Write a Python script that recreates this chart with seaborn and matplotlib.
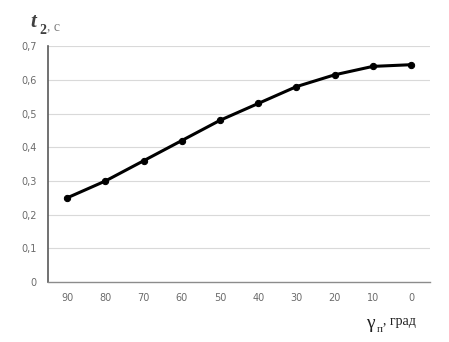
import numpy as np
import pandas as pd
import seaborn as sns
import matplotlib
matplotlib.use("Agg")
import matplotlib.pyplot as plt

# angle categories and time values
angles = ["90", "80", "70", "60", "50", "40", "30", "20", "10", "0"]
t2 = [0.25, 0.30, 0.36, 0.42, 0.48, 0.53, 0.58, 0.615, 0.64, 0.645]
yticks = [0, 0.1, 0.2, 0.3, 0.4, 0.5, 0.6, 0.7]
ytick_labels = ["0", "0,1", "0,2", "0,3", "0,4", "0,5", "0,6", "0,7"]

df = pd.DataFrame({"angle": angles, "t2": t2})
df["pos"] = np.arange(len(angles))

sns.set_theme(style="white")
fig = plt.figure(figsize=(4.49, 3.42), dpi=100)
ax = fig.add_axes([0.107, 0.175, 0.851, 0.69])

for y in yticks[1:]:
    ax.axhline(y, color="#d9d9d9", lw=0.8, zorder=0)

sns.lineplot(data=df, x="pos", y="t2", color="black", lw=2.2, marker="o",
             markersize=4.5, markeredgecolor="black", ax=ax)

ax.set_xlim(-0.5, len(angles) - 0.5)
ax.set_ylim(0, 0.7)
ax.set_xticks(df["pos"])
ax.set_xticklabels(angles)
ax.set_yticks(yticks)
ax.set_yticklabels(ytick_labels)
ax.tick_params(axis="both", labelsize=7, colors="#6b6b6b", length=0, pad=8)
ax.set_xlabel("")
ax.set_ylabel("")

for side in ["top", "right"]:
    ax.spines[side].set_visible(False)
ax.spines["left"].set_color("#595959")
ax.spines["bottom"].set_color("#8c8c8c")
ax.spines["left"].set_linewidth(1.2)
ax.spines["bottom"].set_linewidth(1.0)

# axis titles built from pieces (serif, like the original)
serif = "Liberation Serif"
fig.text(30 / 449, 1 - 22 / 342, "t", fontsize=15, family=serif, style="italic",
         weight="bold", color="#404040", va="center", ha="left")
fig.text(39 / 449, 1 - 30 / 342, "2", fontsize=10, family=serif, weight="bold",
         color="#404040", va="center", ha="left")
fig.text(47 / 449, 1 - 27 / 342, ", с", fontsize=10, family=serif,
         color="#7f7f7f", va="center", ha="left")

fig.text(366 / 449, 1 - 324 / 342, "γ", fontsize=14, family=serif,
         color="#202020", va="center", ha="left")
fig.text(377 / 449, 1 - 330 / 342, "п", fontsize=8, family=serif,
         color="#202020", va="center", ha="left")
fig.text(383 / 449, 1 - 322 / 342, ", град", fontsize=10, family=serif,
         color="#202020", va="center", ha="left")

plt.savefig("out.png", dpi=100)
